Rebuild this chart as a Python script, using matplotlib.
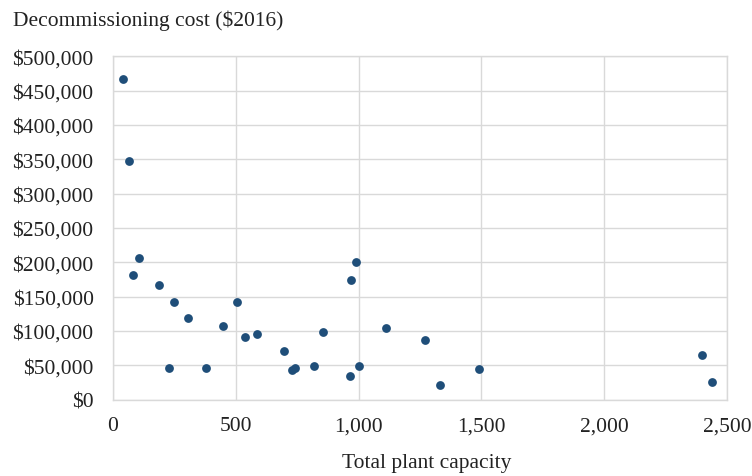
import matplotlib.pyplot as plt
from matplotlib.ticker import FuncFormatter

# plant capacity vs decommissioning cost
capacity = [41, 66, 106, 81, 187, 247, 307, 228, 380, 448, 506, 539, 588, 695,
            729, 742, 818, 855, 969, 991, 964, 1000, 1112, 1270, 1330, 1489,
            2399, 2439]
cost = [466500, 348000, 206300, 182000, 167400, 142700, 119000, 46200, 46600,
        107300, 142300, 90900, 96100, 70900, 42800, 46600, 48600, 99000,
        173800, 200500, 34500, 48600, 104000, 86500, 21000, 45100, 65100,
        26200]

x_ticks = [0, 500, 1000, 1500, 2000, 2500]
y_ticks = list(range(0, 500001, 50000))

plt.rcParams['font.family'] = ['Liberation Serif', 'DejaVu Serif']

fig = plt.figure(figsize=(7.52, 4.77), dpi=100)
ax = fig.add_axes([0.1503, 0.160, 0.8165, 0.720])

ax.scatter(capacity, cost, s=40, color='#1f4e79', zorder=3, linewidths=0)

ax.set_xlim(0, 2500)
ax.set_ylim(0, 500000)
ax.set_xticks(x_ticks)
ax.set_yticks(y_ticks)
ax.xaxis.set_major_formatter(FuncFormatter(lambda v, p: '{:,.0f}'.format(v)))
ax.yaxis.set_major_formatter(FuncFormatter(lambda v, p: '${:,.0f}'.format(v)))
ax.tick_params(length=0, labelsize=15.5, colors='#222222')
ax.tick_params(axis='y', pad=14)
ax.tick_params(axis='x', pad=12)

ax.grid(True, color='#d9d9d9', linewidth=1)
ax.set_axisbelow(True)
for s in ax.spines.values():
    s.set_color('#d9d9d9')
    s.set_linewidth(1)

fig.text(0.017, 0.957, 'Decommissioning cost ($2016)', fontsize=15.5,
         color='#222222', va='center', ha='left')
fig.text(0.568, 0.028, 'Total plant capacity', fontsize=15.5,
         color='#222222', va='center', ha='center')

fig.savefig('out.png', dpi=100)
